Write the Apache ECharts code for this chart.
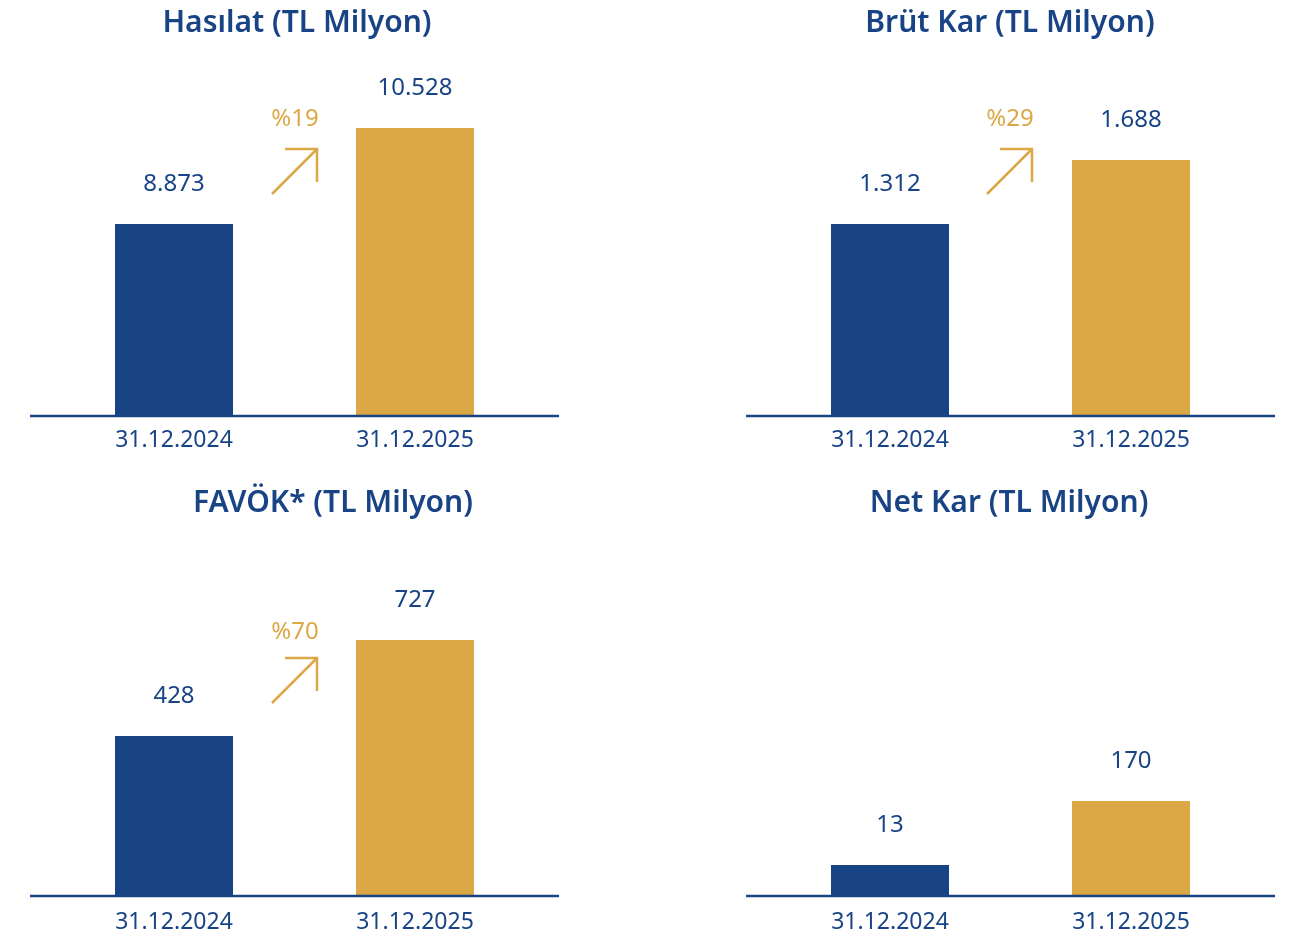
<!DOCTYPE html>
<html><head><meta charset="utf-8">
<script src="https://cdn.jsdelivr.net/npm/echarts@6/dist/echarts.min.js"></script>
<style>html,body{margin:0;padding:0;background:#fff}#c{width:1304px;height:941px}</style>
</head><body><div id="c"></div>
<script>
const categories = ['31.12.2024', '31.12.2025'];
const titles = ['Hasılat (TL Milyon)', 'Brüt Kar (TL Milyon)', 'FAVÖK* (TL Milyon)', 'Net Kar (TL Milyon)'];
const hasilat = [8873, 10528];
const brutKar = [1312, 1688];
const favok = [428, 727];
const netKar = [13, 170];
const changePct = [19, 29, 70, null];

const BLUE = '#184486', GOLD = '#DCA745';
const FONT = '"Noto Sans", sans-serif';
const BAR_W = 118;

function fmt(v) { return String(v).replace(/\B(?=(\d{3})+(?!\d))/g, '.'); }

// layout of the 4 panels
const panels = [
  { vals: hasilat, gridLeft: 53.5, top: 80,  base: 416, min: 5563,  max: 11356, lineX: [30, 559],   titleX: 292,  titleTop: 3,  arrow: [272, 194], pctY: 119, lblMargin: 13 },
  { vals: brutKar, gridLeft: 769.5, top: 80, base: 416, min: 184,   max: 2158,  lineX: [746, 1275], titleX: 1005, titleTop: 3,  arrow: [987, 194], pctY: 119, lblMargin: 13 },
  { vals: favok,   gridLeft: 53.5, top: 560, base: 896, min: -70.3, max: 976.2, lineX: [30, 559],   titleX: 328,  titleTop: 483, arrow: [272, 703], pctY: 632, lblMargin: 15 },
  { vals: netKar,  gridLeft: 769.5, top: 560, base: 896, min: -63.05, max: 761.2, lineX: [746, 1275], titleX: 1004, titleTop: 483, arrow: null, pctY: 0, lblMargin: 15 }
];

const grid = [], xAxis = [], yAxis = [], series = [], title = [], graphic = [];
panels.forEach((p, k) => {
  grid.push({ left: p.gridLeft, width: 482, top: p.top, height: p.base - p.top });
  xAxis.push({
    type: 'category', gridIndex: k, data: categories,
    axisLine: { show: false }, axisTick: { show: false },
    axisLabel: { color: BLUE, fontSize: 23, fontFamily: FONT, margin: p.lblMargin }
  });
  yAxis.push({ type: 'value', gridIndex: k, min: p.min, max: p.max, show: false, splitLine: { show: false } });
  series.push({
    type: 'custom', xAxisIndex: k, yAxisIndex: k,
    data: p.vals.map((v, i) => [i, v]),
    renderItem: (params, api) => {
      const i = api.value(0), v = api.value(1);
      const top = api.coord([i, v]);
      const cs = params.coordSys;
      const baseY = cs.y + cs.height;
      return {
        type: 'group', children: [
          { type: 'rect', shape: { x: top[0] - BAR_W / 2, y: top[1], width: BAR_W, height: baseY - top[1] },
            style: { fill: i === 0 ? BLUE : GOLD } },
          { type: 'text', x: top[0], y: top[1] - 40,
            style: { text: fmt(v), align: 'center', verticalAlign: 'middle', fill: BLUE, fontSize: 24, fontFamily: FONT } }
        ]
      };
    }
  });
  title.push({
    text: titles[k], left: p.titleX, top: p.titleTop, textAlign: 'center',
    textStyle: { color: BLUE, fontSize: 30, fontWeight: 600, fontFamily: FONT }
  });
  graphic.push({ type: 'line', z: 100, shape: { x1: p.lineX[0], y1: p.base, x2: p.lineX[1], y2: p.base },
    style: { stroke: BLUE, lineWidth: 2.5 } });
  if (p.arrow && changePct[k] != null) {
    const [ax, ay] = p.arrow;
    graphic.push({ type: 'polyline', shape: { points: [[ax, ay], [ax + 45, ay - 45]] }, style: { stroke: GOLD, lineWidth: 2.5, fill: null } });
    graphic.push({ type: 'polyline', shape: { points: [[ax + 13, ay - 45], [ax + 45, ay - 45], [ax + 45, ay - 12]] }, style: { stroke: GOLD, lineWidth: 2.5, fill: null } });
    graphic.push({ type: 'text', x: ax + 23, y: p.pctY,
      style: { text: '%' + changePct[k], align: 'center', verticalAlign: 'middle', fill: GOLD, fontSize: 24, fontFamily: FONT } });
  }
});

const chart = echarts.init(document.getElementById('c'), null, { renderer: 'canvas' });
chart.setOption({ backgroundColor: '#fff', animation: false, title, grid, xAxis, yAxis, series, graphic });
</script>
</body></html>
